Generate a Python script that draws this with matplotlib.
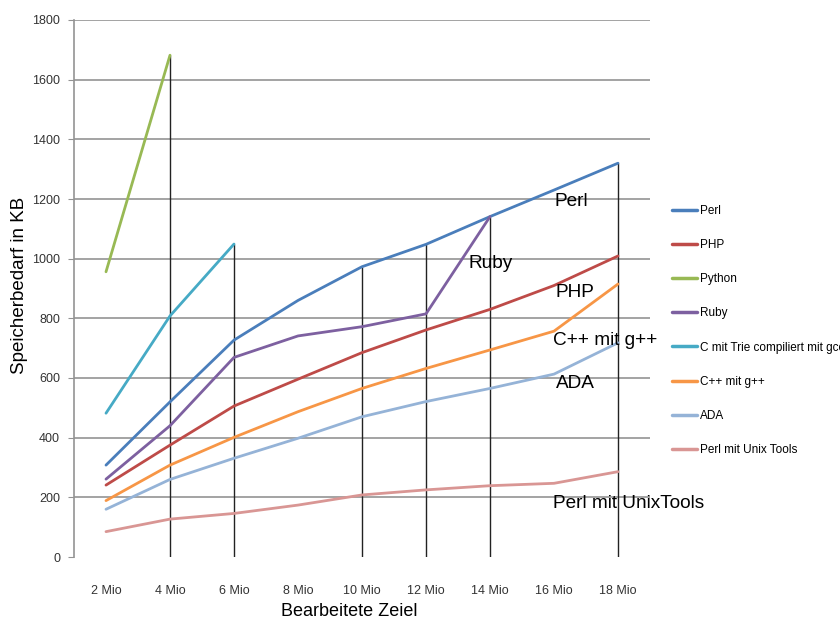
import matplotlib
matplotlib.use('Agg')
import matplotlib.pyplot as plt

# Speicherbedarf (KB) je Sprache, gemessen ueber die Anzahl bearbeiteter Zeilen
zeilen = ['2 Mio', '4 Mio', '6 Mio', '8 Mio', '10 Mio', '12 Mio', '14 Mio', '16 Mio', '18 Mio']

perl = [308, 520, 727, 860, 973, 1048, 1141, 1230, 1320]
php = [241, 375, 506, 596, 685, 761, 830, 910, 1009]
python = [956, 1682]
ruby = [261, 440, 669, 741, 772, 815, 1141]
c_trie = [482, 808, 1049]
cpp = [189, 308, 401, 487, 565, 632, 694, 757, 915]
ada = [160, 260, 331, 398, 470, 521, 565, 613, 718]
perl_unix = [85, 127, 146, 174, 208, 225, 239, 247, 286]

serien = [
    ('Perl', perl, '#4A7EBB'),
    ('PHP', php, '#BE4B48'),
    ('Python', python, '#98B954'),
    ('Ruby', ruby, '#7D60A0'),
    ('C mit Trie compiliert mit gcc', c_trie, '#46AAC5'),
    ('C++ mit g++', cpp, '#F79646'),
    ('ADA', ada, '#95B3D7'),
    ('Perl mit Unix Tools', perl_unix, '#D99694'),
]

# Kategorien mit senkrechten Linien
lot_idx = [1, 2, 4, 5, 6, 8]

beschriftung = [
    ('Perl', 7.0, 1190),
    ('Ruby', 5.66, 985),
    ('PHP', 7.03, 888),
    ('C++ mit g++', 6.98, 727),
    ('ADA', 7.03, 583),
    ('Perl mit UnixTools', 6.98, 178),
]

arial = ['Liberation Sans', 'DejaVu Sans']

fig = plt.figure(figsize=(8.4, 6.22), dpi=100)
ax = fig.add_axes([74/840, 1 - 557/622, 576/840, 537/622])

ax.set_xlim(-0.5, 8.5)
ax.set_ylim(0, 1800)
ax.set_yticks(range(0, 1801, 200))
for v in range(200, 1801, 200):
    ax.axhline(v, color='#939393', lw=1.2, zorder=1)

for i in lot_idx:
    top = max(s[i] for _, s, _ in serien if i < len(s))
    ax.vlines(i, 0, top, color='#222222', lw=1, zorder=2)

for name, werte, farbe in serien:
    ax.plot(range(len(werte)), werte, color=farbe, lw=2, label=name, zorder=3,
            solid_capstyle='round')

for txt, x, y in beschriftung:
    ax.text(x, y, txt, fontsize=13.7, family=arial, va='center', ha='left', zorder=4)

for s in ['top', 'right', 'bottom']:
    ax.spines[s].set_visible(False)
ax.spines['left'].set_color('#939393')
ax.spines['left'].set_linewidth(1.2)

ax.set_xticks(range(len(zeilen)))
ax.set_xticklabels(zeilen, family=arial, fontsize=9, color='#333333')
ax.tick_params(axis='x', length=0, pad=20)
ax.tick_params(axis='y', length=4, color='#939393', pad=6, labelsize=9,
               labelcolor='#333333')
for lab in ax.get_yticklabels():
    lab.set_family(arial)

fig.text(20/840, 1 - 285/622, 'Speicherbedarf in KB', rotation=90, fontsize=13.5,
         family=arial, ha='center', va='center')
fig.text(349/840, 1 - 612/622, 'Bearbeitete Zeiel', fontsize=13, family=arial,
         ha='center', va='center')

leg = fig.legend(loc='upper left', bbox_to_anchor=(667/840, 1 - 200/622),
                 frameon=False, handlelength=2.1, handletextpad=0.3,
                 labelspacing=1.88, borderaxespad=0, prop={'family': arial, 'size': 8.5})
for line in leg.get_lines():
    line.set_linewidth(2.5)

fig.savefig('out.png', dpi=100)
